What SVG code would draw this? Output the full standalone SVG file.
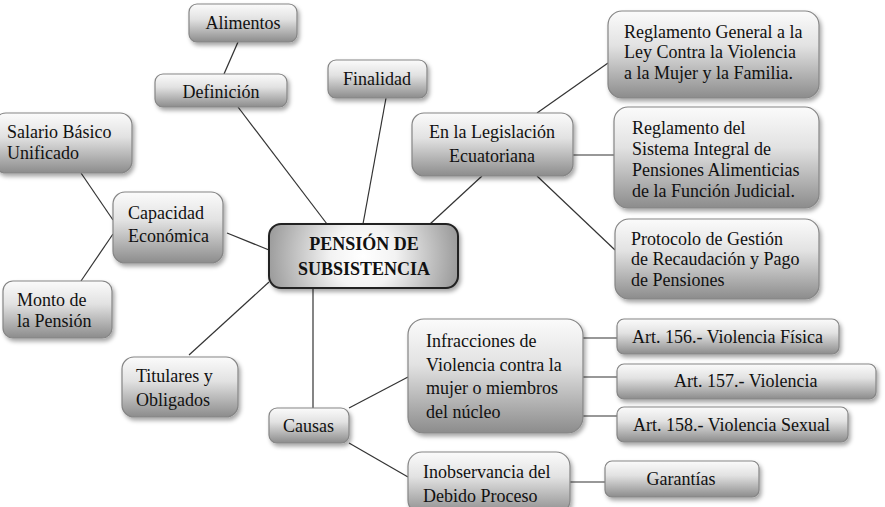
<svg xmlns="http://www.w3.org/2000/svg" width="885" height="507" viewBox="0 0 885 507">
<defs>
<linearGradient id="g" x1="0" y1="0" x2="0" y2="1">
<stop offset="0" stop-color="#fbfbfb"/>
<stop offset="0.4" stop-color="#e2e2e2"/>
<stop offset="1" stop-color="#8c8c8c"/>
</linearGradient>
<radialGradient id="rg" gradientUnits="userSpaceOnUse" cx="363" cy="256" r="108">
<stop offset="0" stop-color="#ffffff"/>
<stop offset="0.3" stop-color="#f3f3f3"/>
<stop offset="1" stop-color="#8a8a8a"/>
</radialGradient>
<filter id="sh" x="-10%" y="-10%" width="125%" height="135%">
<feDropShadow dx="2" dy="3" stdDeviation="2" flood-color="#000" flood-opacity="0.35"/>
</filter>
</defs>
<style>
.n rect{fill:url(#g);stroke:#858585;stroke-width:1.2;filter:url(#sh)}
.c rect{fill:url(#rg);stroke:#222;stroke-width:2;filter:url(#sh)}
text{font-family:"Liberation Serif","Times New Roman",serif;font-size:18px;fill:#111}
.m{text-anchor:middle}
.b{font-weight:bold}
#connectors line{stroke:#333;stroke-width:1.2}
</style>
<rect width="885" height="507" fill="#fff"/>
<g id="connectors">
<line x1="238" y1="42" x2="224" y2="74"/>
<line x1="238" y1="107" x2="327" y2="224"/>
<line x1="386" y1="98" x2="363" y2="224"/>
<line x1="81" y1="173" x2="113" y2="220"/>
<line x1="227" y1="233" x2="269" y2="250"/>
<line x1="113" y1="234" x2="81" y2="281"/>
<line x1="189" y1="355" x2="269" y2="282"/>
<line x1="313" y1="288" x2="313" y2="408"/>
<line x1="349" y1="408" x2="408" y2="377"/>
<line x1="349" y1="443" x2="408" y2="477"/>
<line x1="583" y1="338" x2="617" y2="338"/>
<line x1="583" y1="377" x2="617" y2="377"/>
<line x1="583" y1="416" x2="617" y2="416"/>
<line x1="570" y1="482" x2="605" y2="482"/>
<line x1="430" y1="224" x2="482" y2="176"/>
<line x1="537" y1="113" x2="608" y2="63"/>
<line x1="573" y1="155" x2="614" y2="155"/>
<line x1="537" y1="176" x2="615" y2="250"/>
</g>
<g id="alimentos" class="n"><rect x="189" y="4" width="108" height="38" rx="8"/><text x="243" y="29" class="m">Alimentos</text></g>
<g id="definicion" class="n"><rect x="155" y="74" width="132" height="33" rx="8"/><text x="221" y="98" class="m">Definición</text></g>
<g id="finalidad" class="n"><rect x="328" y="60" width="99" height="38" rx="8"/><text x="377" y="85" class="m">Finalidad</text></g>
<g id="salario" class="n"><rect x="-6" y="113" width="138" height="60" rx="12"/><text x="7" y="138">Salario Básico</text><text x="7" y="159">Unificado</text></g>
<g id="capacidad" class="n"><rect x="113" y="192" width="110" height="71" rx="12"/><text x="128" y="219">Capacidad</text><text x="128" y="242">Económica</text></g>
<g id="monto" class="n"><rect x="3" y="281" width="109" height="57" rx="10"/><text x="17" y="306">Monto de</text><text x="17" y="327">la Pensión</text></g>
<g id="titulares" class="n"><rect x="122" y="357" width="116" height="60" rx="12"/><text x="136" y="382">Titulares y</text><text x="136" y="406">Obligados</text></g>
<g id="centro" class="c"><rect x="269" y="224" width="189" height="64" rx="12"/><text x="364" y="250" class="m b">PENSIÓN DE</text><text x="364" y="275" class="m b">SUBSISTENCIA</text></g>
<g id="causas" class="n"><rect x="269" y="408" width="80" height="35" rx="8"/><text x="283" y="432">Causas</text></g>
<g id="legislacion" class="n"><rect x="412" y="113" width="161" height="63" rx="12"/><text x="492" y="138" class="m">En la Legislación</text><text x="492" y="162" class="m">Ecuatoriana</text></g>
<g id="reglamento-general" class="n"><rect x="608" y="11" width="211" height="87" rx="14"/><text x="624" y="38">Reglamento General a la</text><text x="624" y="58">Ley Contra la Violencia</text><text x="624" y="79">a la Mujer y la Familia.</text></g>
<g id="reglamento-sistema" class="n"><rect x="614" y="107" width="205" height="101" rx="14"/><text x="632" y="134">Reglamento del</text><text x="632" y="155">Sistema Integral de</text><text x="632" y="176">Pensiones Alimenticias</text><text x="632" y="197">de la Función Judicial.</text></g>
<g id="protocolo" class="n"><rect x="615" y="219" width="204" height="80" rx="14"/><text x="631" y="245">Protocolo de Gestión</text><text x="631" y="265">de Recaudación y Pago</text><text x="631" y="286">de Pensiones</text></g>
<g id="infracciones" class="n"><rect x="408" y="319" width="175" height="114" rx="16"/><text x="426" y="347">Infracciones de</text><text x="426" y="371">Violencia contra la</text><text x="426" y="394">mujer o miembros</text><text x="426" y="418">del núcleo</text></g>
<g id="inobservancia" class="n"><rect x="408" y="452" width="162" height="62" rx="14"/><text x="423" y="478">Inobservancia del</text><text x="423" y="502">Debido Proceso</text></g>
<g id="art156" class="n"><rect x="617" y="319" width="222" height="35" rx="7"/><text x="632" y="343">Art. 156.- Violencia Física</text></g>
<g id="art157" class="n"><rect x="617" y="364" width="259" height="35" rx="7"/><text x="674" y="387">Art. 157.- Violencia</text></g>
<g id="art158" class="n"><rect x="617" y="407" width="231" height="35" rx="7"/><text x="633" y="431">Art. 158.- Violencia Sexual</text></g>
<g id="garantias" class="n"><rect x="605" y="461" width="154" height="36" rx="7"/><text x="681" y="485" class="m">Garantías</text></g>
</svg>
